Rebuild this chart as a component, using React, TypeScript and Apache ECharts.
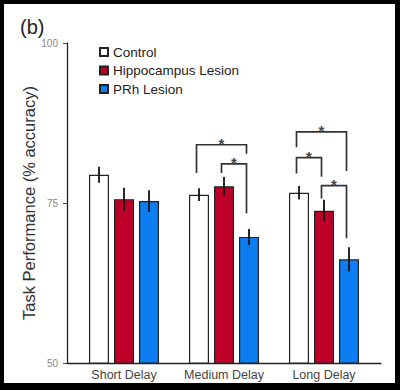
import React, { useEffect, useRef } from 'react';
import * as echarts from 'echarts';

const categories = ['Short Delay', 'Medium Delay', 'Long Delay'];
const seriesNames = ['Control', 'Hippocampus Lesion', 'PRh Lesion'];
const controlMeans = [79.4, 76.3, 76.6];
const hippoMeans = [75.6, 77.6, 73.8];
const prhMeans = [75.3, 69.7, 66.2];
const controlErr = [1.25, 1.0, 1.05];
const hippoErr = [1.8, 1.45, 1.7];
const prhErr = [1.7, 1.25, 1.9];
const yMin = 50;
const yMax = 100;
const yStep = 25;
// significance brackets: [group, fromBar, toBar, level, leftLegEnd, rightLegEnd]
const brackets = [
  [1, 0, 2, 84.1, 79.7, 82.7],
  [1, 1, 2, 81.1, 79.7, 73.4],
  [2, 0, 2, 86.1, 83.7, 80.0],
  [2, 0, 1, 82.1, 79.6, 79.1],
  [2, 1, 2, 77.7, 75.7, 69.5],
];

const colors = ['#ffffff', '#BE0028', '#0D7DF2'];
const BAR_W = 20;
const BAR_STEP = 25;
const FONT = 'Liberation Sans, Arial, sans-serif';

export default function App() {
  const ref = useRef<HTMLDivElement>(null);
  useEffect(() => {
    if (!ref.current) return;
    const chart = echarts.init(ref.current, null, { renderer: 'svg' });
    const meansList = [controlMeans, hippoMeans, prhMeans];
    const errList = [controlErr, hippoErr, prhErr];
    const barSeries = seriesNames.map((name, s) => ({
      name,
      type: 'bar',
      barWidth: BAR_W,
      barGap: '25%',
      data: meansList[s].map((v, g) => [g, v]),
      itemStyle: { color: colors[s], borderColor: '#222', borderWidth: 1.2 },
      z: 2,
    }));
    const errSeries = seriesNames.map((name, s) => ({
      type: 'custom',
      name: name + ' error',
      data: meansList[s].map((v, g) => [g, v - errList[s][g], v + errList[s][g]]),
      encode: { x: 0, y: 1 },
      z: 5,
      renderItem: (params: any, api: any) => {
        const g = api.value(0);
        const lo = api.coord([g, api.value(1)]);
        const hi = api.coord([g, api.value(2)]);
        const x = lo[0] + (s - 1) * BAR_STEP;
        return {
          type: 'polyline',
          shape: { points: [[x, lo[1]], [x, hi[1]]] },
          style: { stroke: '#111', lineWidth: 1.8, fill: 'none' },
        };
      },
    }));
    chart.setOption({
      animation: false,
      backgroundColor: '#000',
      graphic: [
        {
          type: 'rect',
          z: -100,
          silent: true,
          shape: { x: 4, y: 4, width: 391, height: 379 },
          style: { fill: '#fff' },
        },
        {
          type: 'text',
          x: 20,
          y: 27,
          style: {
            text: '(b)',
            fontSize: 20,
            fontFamily: FONT,
            fill: '#222',
            textVerticalAlign: 'middle',
          },
        },
      ],
      grid: { left: 67, right: 19, top: 43, bottom: 27, containLabel: false },
      legend: {
        orient: 'vertical',
        left: 99,
        top: 45,
        padding: 0,
        itemWidth: 8,
        itemHeight: 8,
        itemGap: 4.5,
        icon: 'rect',
        data: seriesNames,
        textStyle: { fontSize: 13.5, color: '#222', fontFamily: FONT },
      },
      xAxis: {
        type: 'value',
        min: -0.57,
        max: 2.57,
        splitLine: { show: false },
        axisTick: { show: false },
        axisLine: { show: true, onZero: false, lineStyle: { color: '#222', width: 1.3 } },
        axisLabel: {
          customValues: [0, 1, 2],
          formatter: (v: number) => categories[Math.round(v)] ?? '',
          fontSize: 12.5,
          color: '#444',
          margin: 5,
          fontFamily: FONT,
        },
      },
      yAxis: {
        type: 'value',
        min: yMin,
        max: yMax,
        interval: yStep,
        splitLine: { show: false },
        axisLine: { show: true, onZero: false, lineStyle: { color: '#222', width: 1.3 } },
        axisTick: { show: true, length: 4, lineStyle: { color: '#444' } },
        axisLabel: { fontSize: 10, color: '#888', margin: 9, fontFamily: FONT },
        name: 'Task Performance (% accuracy)',
        nameLocation: 'middle',
        nameGap: 30,
        nameMoveOverlap: false,
        nameTextStyle: { fontSize: 16.5, color: '#333', fontFamily: FONT },
      },
      series: [
        ...barSeries,
        ...errSeries,
        {
          type: 'custom',
          name: 'sig',
          data: brackets,
          encode: { x: 0, y: 3 },
          z: 5,
          renderItem: (params: any, api: any) => {
            const g = api.value(0);
            const from = api.value(1);
            const to = api.value(2);
            const base = api.coord([g, api.value(3)]);
            const yl = api.coord([g, api.value(4)])[1];
            const yr = api.coord([g, api.value(5)])[1];
            const xl = base[0] + (from - 1) * BAR_STEP - 2.5;
            const xr = base[0] + (to - 1) * BAR_STEP - 2.5;
            const ylev = base[1];
            return {
              type: 'group',
              children: [
                {
                  type: 'polyline',
                  shape: { points: [[xl, yl], [xl, ylev], [xr, ylev], [xr, yr]] },
                  style: { stroke: '#333', lineWidth: 1.7, fill: 'none' },
                },
                {
                  type: 'text',
                  x: (xl + xr) / 2,
                  y: ylev - 1,
                  style: {
                    text: '*',
                    fontSize: 15,
                    fontWeight: 'bold',
                    fill: '#444',
                    textAlign: 'center',
                    textVerticalAlign: 'middle',
                    fontFamily: FONT,
                  },
                },
              ],
            };
          },
        },
      ],
    });
    return () => chart.dispose();
  }, []);
  return (
    <div
      ref={ref}
      style={{ position: 'absolute', left: 0, top: 0, width: 400, height: 390 }}
    />
  );
}
